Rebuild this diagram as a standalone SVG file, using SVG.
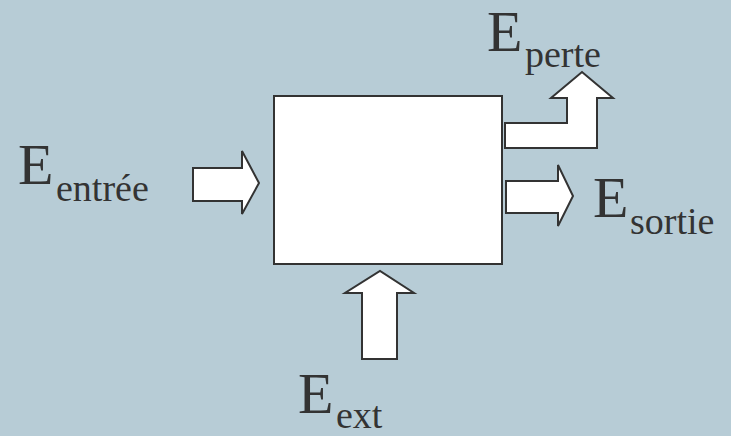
<svg xmlns="http://www.w3.org/2000/svg" width="731" height="436" viewBox="0 0 731 436">
<style>
.shape{fill:#ffffff;stroke:#333333;stroke-width:2;stroke-linejoin:miter}
.big{font-family:"Liberation Serif","Times New Roman",serif;font-size:58px;fill:#333333}
.sub{font-family:"Liberation Serif","Times New Roman",serif;font-size:38px;fill:#333333}
</style>
<rect width="731" height="436" fill="#b7ccd6"/>
<g id="system">
<rect class="shape" x="274" y="96" width="228" height="168"/>
</g>
<g id="connectors">
<polygon class="shape" points="193,168 242,168 242,151 259,183 242,214 242,201 193,201"/>
<polygon class="shape" points="506,181 558,181 558,165 573,196 558,226 558,213 506,213"/>
<polygon class="shape" points="362,359 362,293 345,293 380,271 414,293 397,293 397,359"/>
<polygon class="shape" points="505,148 505,123 567,123 567,98 551,98 582,72 613,98 597,98 597,148"/>
</g>
<g id="label-entree">
<text class="big" x="18" y="184">E</text>
<text class="sub" x="56" y="201">entrée</text>
</g>
<g id="label-perte">
<text class="big" x="487" y="51">E</text>
<text class="sub" x="525" y="67">perte</text>
</g>
<g id="label-sortie">
<text class="big" x="593" y="217">E</text>
<text class="sub" x="630" y="234">sortie</text>
</g>
<g id="label-ext">
<text class="big" x="298" y="413">E</text>
<text class="sub" x="336" y="428">ext</text>
</g>
</svg>
